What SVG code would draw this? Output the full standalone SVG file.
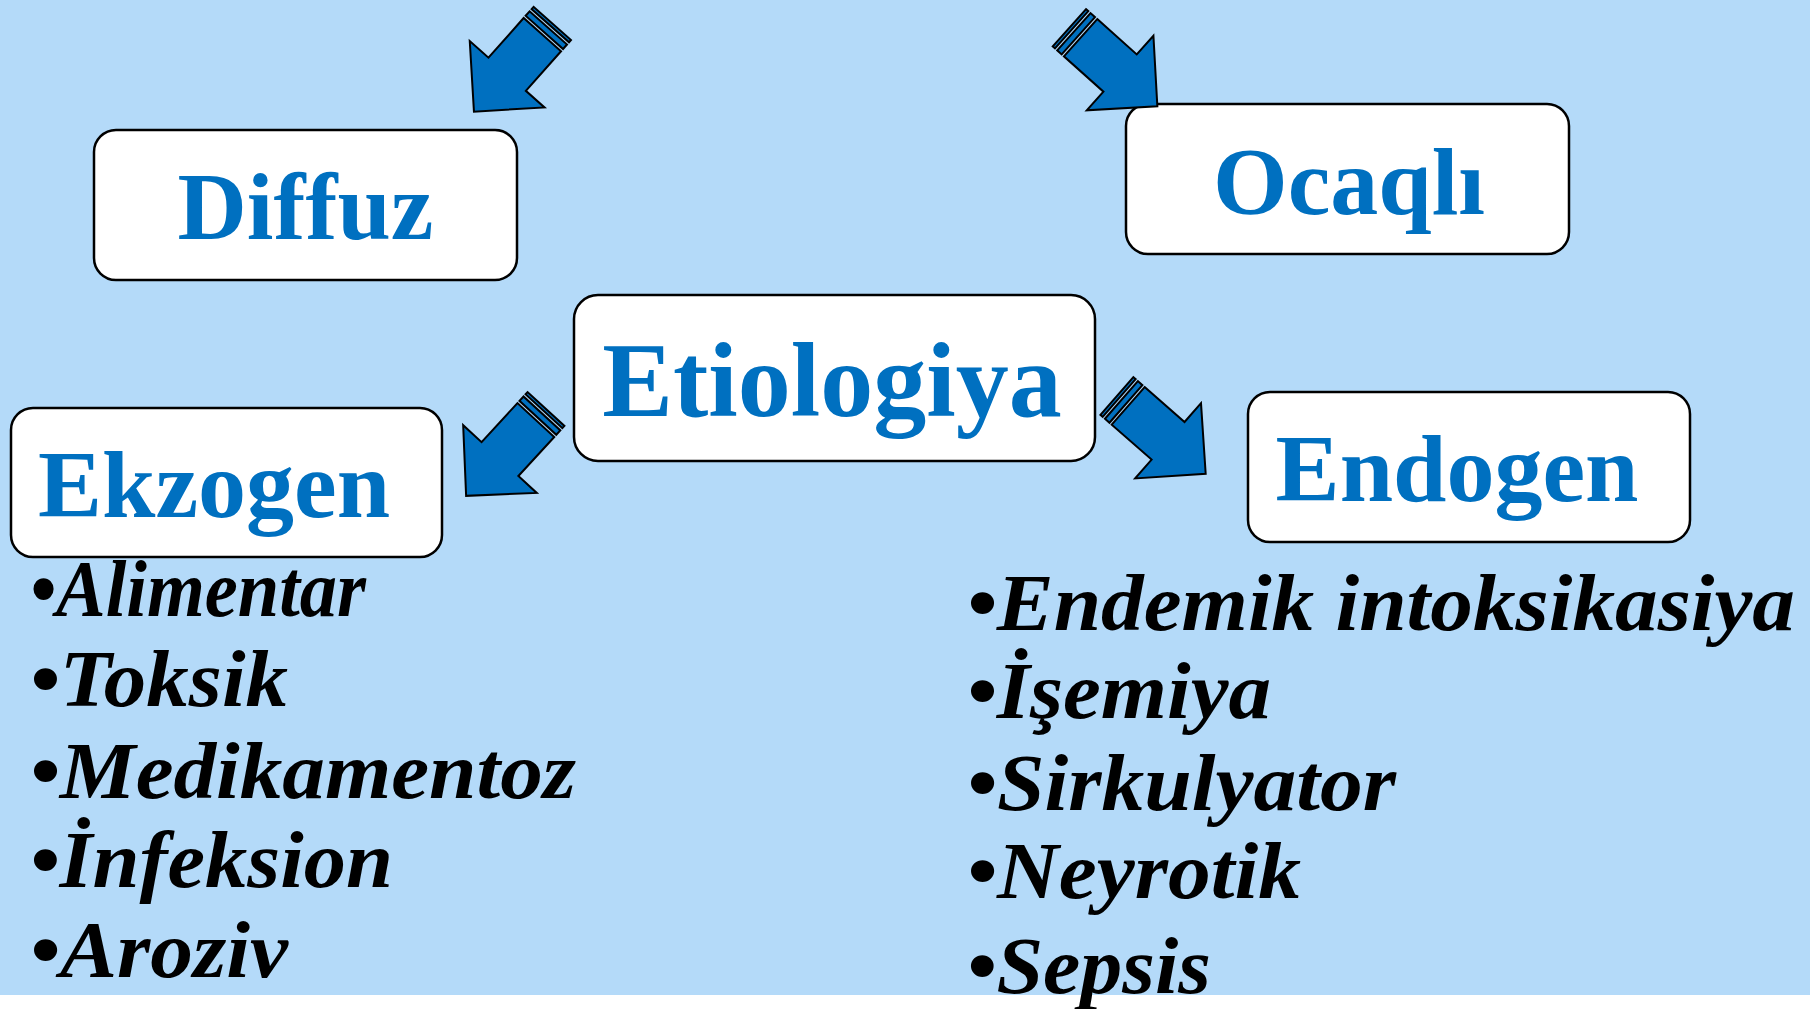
<svg xmlns="http://www.w3.org/2000/svg" xmlns:xlink="http://www.w3.org/1999/xlink" width="1810" height="1009" viewBox="0 0 1810 1009">
<style>
.box{fill:#FFFFFF;stroke:#000000;stroke-width:2.5}
.title{font-family:"Liberation Serif","Times New Roman",serif;font-weight:bold;fill:#0070C0;text-anchor:middle}
.item{font-family:"Liberation Serif","Times New Roman",serif;font-weight:bold;font-style:italic;font-size:81px;fill:#000000}
.arr{fill:#0070C0;stroke:#000000;stroke-width:2;stroke-linejoin:miter}
</style>
<defs>
<g id="striped-arrow">
<rect class="arr" x="0" y="-25" width="3" height="50"/>
<rect class="arr" x="6" y="-25" width="6" height="50"/>
<polygon class="arr" points="15,-25 68,-25 68,-50 118,0 68,50 68,25 15,25"/>
</g>
</defs>
<rect x="0" y="0" width="1810" height="1009" fill="#FFFFFF"/>
<rect x="0" y="0" width="1810" height="995" fill="#B4DAF9"/>

<g id="node-diffuz">
<rect class="box" x="94" y="130" width="423" height="150" rx="22"/>
<text class="title" x="305.5" y="239" font-size="96">Diffuz</text>
</g>
<g id="node-ocaqli">
<rect class="box" x="1126" y="104" width="443" height="150" rx="22"/>
<text class="title" x="1349" y="214" font-size="96">Ocaqlı</text>
</g>
<g id="node-etiologiya">
<rect class="box" x="574" y="295" width="521" height="166" rx="24"/>
<text class="title" x="832" y="416" font-size="106">Etiologiya</text>
</g>
<g id="node-ekzogen">
<rect class="box" x="11" y="408" width="431" height="149" rx="22"/>
<text class="title" x="214" y="517" font-size="96">Ekzogen</text>
</g>
<g id="node-endogen">
<rect class="box" x="1248" y="392" width="442" height="150" rx="22"/>
<text class="title" x="1457" y="501" font-size="96">Endogen</text>
</g>

<g id="list-ekzogen">
<text class="item" x="30" y="616" textLength="336" lengthAdjust="spacingAndGlyphs">•Alimentar</text>
<text class="item" x="30" y="706" textLength="258" lengthAdjust="spacingAndGlyphs">•Toksik</text>
<text class="item" x="30" y="798" textLength="546" lengthAdjust="spacingAndGlyphs">•Medikamentoz</text>
<text class="item" x="30" y="887" textLength="363" lengthAdjust="spacingAndGlyphs">•İnfeksion</text>
<text class="item" x="30" y="977" textLength="258" lengthAdjust="spacingAndGlyphs">•Aroziv</text>
</g>
<g id="list-endogen">
<text class="item" x="967" y="630" textLength="828" lengthAdjust="spacingAndGlyphs">•Endemik intoksikasiya</text>
<text class="item" x="967" y="718" textLength="304" lengthAdjust="spacingAndGlyphs">•İşemiya</text>
<text class="item" x="967" y="810" textLength="429" lengthAdjust="spacingAndGlyphs">•Sirkulyator</text>
<text class="item" x="967" y="898" textLength="334" lengthAdjust="spacingAndGlyphs">•Neyrotik</text>
<text class="item" x="967" y="993" textLength="244" lengthAdjust="spacingAndGlyphs">•Sepsis</text>
</g>

<g id="connectors">
<use xlink:href="#striped-arrow" href="#striped-arrow" transform="translate(552.3,23.4) rotate(131.6)"/>
<use xlink:href="#striped-arrow" href="#striped-arrow" transform="translate(1069.4,27.7) rotate(41.8)"/>
<use xlink:href="#striped-arrow" href="#striped-arrow" transform="translate(546,409) rotate(132.6)"/>
<use xlink:href="#striped-arrow" href="#striped-arrow" transform="translate(1116.9,396) rotate(41.2)"/>
</g>
</svg>
